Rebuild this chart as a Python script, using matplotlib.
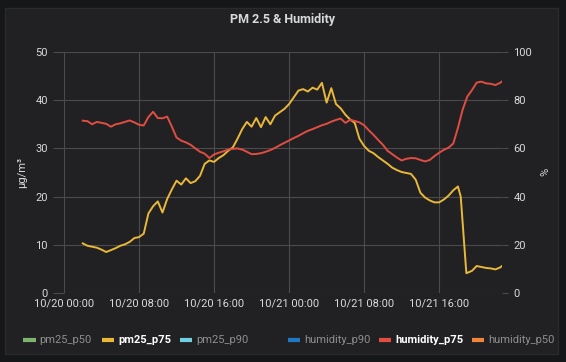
import matplotlib.pyplot as plt
from matplotlib.patches import Rectangle
from matplotlib.lines import Line2D

W, H = 566, 362

# hours since 10/20 00:00
pm_hours = [2.0, 2.5, 3.0, 3.5, 4.0, 4.5, 5.0, 5.5, 6.0, 6.5, 7.0, 7.5, 8.0, 8.5,
            9.0, 9.5, 10.0, 10.5, 11.0, 11.5, 12.0, 12.5, 13.0, 13.5, 14.0, 14.5,
            15.0, 15.5, 16.0, 16.5, 17.0, 17.5, 18.0, 18.5, 19.0, 19.5, 20.0, 20.5,
            21.0, 21.5, 22.0, 22.5, 23.0, 23.5, 24.0, 24.5, 25.0, 25.5, 26.0, 26.5,
            27.0, 27.5, 28.0, 28.5, 29.0, 29.5, 30.0, 30.5, 31.0, 31.5, 32.0, 32.5,
            33.0, 33.5, 34.0, 34.5, 35.0, 35.5, 36.0, 36.5, 37.0, 37.5, 38.0, 38.5,
            39.0, 39.5, 40.0, 40.5, 41.0, 41.5, 42.0, 42.3, 42.6, 42.9, 43.5, 44.0,
            44.5, 45.0, 45.5, 46.0, 46.5, 46.7]
pm25_p75 = [10.3, 9.8, 9.6, 9.4, 9.0, 8.5, 8.9, 9.3, 9.8, 10.1, 10.6, 11.4, 11.6, 12.3,
            16.5, 18.0, 19.0, 16.7, 19.5, 21.5, 23.3, 22.5, 23.8, 22.8, 23.2, 24.3,
            26.8, 27.5, 27.2, 28.0, 28.6, 29.5, 30.2, 32.0, 34.0, 35.5, 34.5, 36.3,
            34.4, 36.5, 35.0, 36.8, 37.5, 38.2, 39.2, 40.6, 42.0, 42.3, 41.8, 42.6,
            42.2, 43.6, 39.5, 42.5, 39.2, 38.3, 37.0, 36.0, 35.3, 32.0, 30.5, 29.5,
            29.0, 28.2, 27.5, 26.8, 26.0, 25.5, 25.1, 24.9, 24.7, 23.5, 20.8, 19.8,
            19.2, 18.8, 18.8, 19.4, 20.2, 21.3, 22.1, 20.0, 12.0, 4.1, 4.6, 5.6,
            5.4, 5.2, 5.1, 4.9, 5.3, 5.6]

hum_hours = [2.0, 2.5, 3.0, 3.5, 4.0, 4.5, 5.0, 5.5, 6.0, 6.5, 7.0, 7.5, 8.0, 8.5,
             9.0, 9.5, 10.0, 10.5, 11.0, 11.5, 12.0, 12.5, 13.0, 13.5, 14.0, 14.5,
             15.0, 15.5, 16.0, 16.5, 17.0, 17.5, 18.0, 18.5, 19.0, 19.5, 20.0, 20.5,
             21.0, 21.5, 22.0, 22.5, 23.0, 23.5, 24.0, 24.5, 25.0, 25.5, 26.0, 26.5,
             27.0, 27.5, 28.0, 28.5, 29.0, 29.5, 30.0, 30.5, 31.0, 31.5, 32.0, 32.5,
             33.0, 33.5, 34.0, 34.5, 35.0, 35.5, 36.0, 36.5, 37.0, 37.5, 38.0, 38.5,
             39.0, 39.5, 40.0, 40.5, 41.0, 41.5, 42.0, 42.5, 43.0, 43.5, 44.0, 44.5,
             45.0, 45.5, 46.0, 46.5, 46.7]
humidity_p75 = [71.5, 71.3, 70.0, 71.0, 70.6, 70.2, 69.0, 70.0, 70.4, 71.0, 71.6, 70.8,
                69.8, 69.5, 73.0, 75.2, 72.6, 72.5, 73.2, 69.0, 64.5, 63.2, 62.5, 61.5,
                60.0, 58.6, 57.8, 56.0, 57.5, 58.2, 58.8, 59.5, 59.8, 60.0, 59.5, 58.6,
                57.6, 57.7, 58.0, 58.6, 59.3, 60.2, 61.3, 62.3, 63.3, 64.3, 65.2, 66.3,
                67.3, 68.0, 68.8, 69.6, 70.2, 71.1, 71.8, 72.4, 70.6, 71.8, 71.4, 70.8,
                69.6, 67.5, 65.6, 63.5, 61.5, 59.0, 57.6, 56.2, 55.0, 55.7, 56.0, 55.9,
                55.2, 54.6, 55.2, 56.8, 58.2, 59.4, 60.3, 62.0, 68.5, 76.0, 81.5, 84.2,
                87.3, 87.7, 87.0, 86.8, 86.3, 87.2, 87.8]

x_ticks = [0, 8, 16, 24, 32, 40]
x_labels = ['10/20 00:00', '10/20 08:00', '10/20 16:00',
            '10/21 00:00', '10/21 08:00', '10/21 16:00']

legend_names = ['pm25_p50', 'pm25_p75', 'pm25_p90',
                'humidity_p90', 'humidity_p75', 'humidity_p50']
legend_colors = ['#7EB26D', '#EAB839', '#6ED0E0', '#1F78C1', '#E24D42', '#EF843C']
legend_shown = [False, True, False, False, True, False]

TEXT = '#d8d9da'
GRID = '#4b4b4d'
plt.rcParams['font.family'] = ['Roboto', 'DejaVu Sans']

fig = plt.figure(figsize=(W / 100, H / 100), dpi=100)
fig.patch.set_facecolor('#161719')
panel = Rectangle((5 / W, 1 - 354 / H), 553 / W, 346 / H,
                  transform=fig.transFigure, facecolor='#212124',
                  edgecolor='#2a2a2d', lw=1, zorder=-5)
fig.add_artist(panel)

x0, x1, ytop, ybot = 64, 502, 52, 293
ax = fig.add_axes([x0 / W, 1 - ybot / H, (x1 - x0) / W, (ybot - ytop) / H])
ax.set_facecolor('none')
ax2 = ax.twinx()
ax2.set_facecolor('none')

ax.plot(pm_hours, pm25_p75, color='#EAB839', lw=1.4, zorder=3)
ax2.plot(hum_hours, humidity_p75, color='#E24D42', lw=1.4, zorder=3)

ax.set_xlim(0, pm_hours[-1])
ax.set_ylim(0, 50)
ax2.set_ylim(0, 100)
ax.set_yticks(range(0, 51, 10))
ax2.set_yticks(range(0, 101, 20))
ax.set_xticks(x_ticks)
ax.set_xticklabels(x_labels)

ax.grid(True, color=GRID, lw=0.8)
for a in (ax, ax2):
    for s in a.spines.values():
        s.set_visible(False)
ax.tick_params(axis='y', length=8, width=0.8, color=GRID, pad=3.6,
               labelsize=8, labelcolor=TEXT)
ax.tick_params(axis='x', length=0, pad=4, labelsize=8, labelcolor=TEXT)
ax2.tick_params(axis='y', length=4.5, width=0.8, color=GRID, pad=3.6,
                labelsize=8, labelcolor=TEXT)

fig.text(283 / W, 1 - 19 / H, 'PM 2.5 & Humidity', ha='center', va='center',
         fontsize=9, fontweight='bold', color=TEXT)
fig.text(22 / W, 1 - 172 / H, 'µg/m³', rotation=90, ha='center', va='center',
         fontsize=8, color=TEXT)
fig.text(545 / W, 1 - 172 / H, '%', rotation=90, ha='center', va='center',
         fontsize=8, color=TEXT)

# legend drawn by hand to keep the gap between the two groups
swatch_x = [23.5, 102, 180, 288, 379, 472]
ly = 1 - 340 / H
for sx, name, col, shown in zip(swatch_x, legend_names, legend_colors, legend_shown):
    fig.add_artist(Line2D([sx / W, (sx + 12) / W], [ly, ly], color=col, lw=3,
                          transform=fig.transFigure, solid_capstyle='butt'))
    fig.text((sx + 16) / W, ly, name, ha='left', va='center', fontsize=8,
             color='#ffffff' if shown else '#8e8e8e',
             fontweight='bold' if shown else 'normal')

fig.savefig('out.png', dpi=100, facecolor=fig.get_facecolor())
